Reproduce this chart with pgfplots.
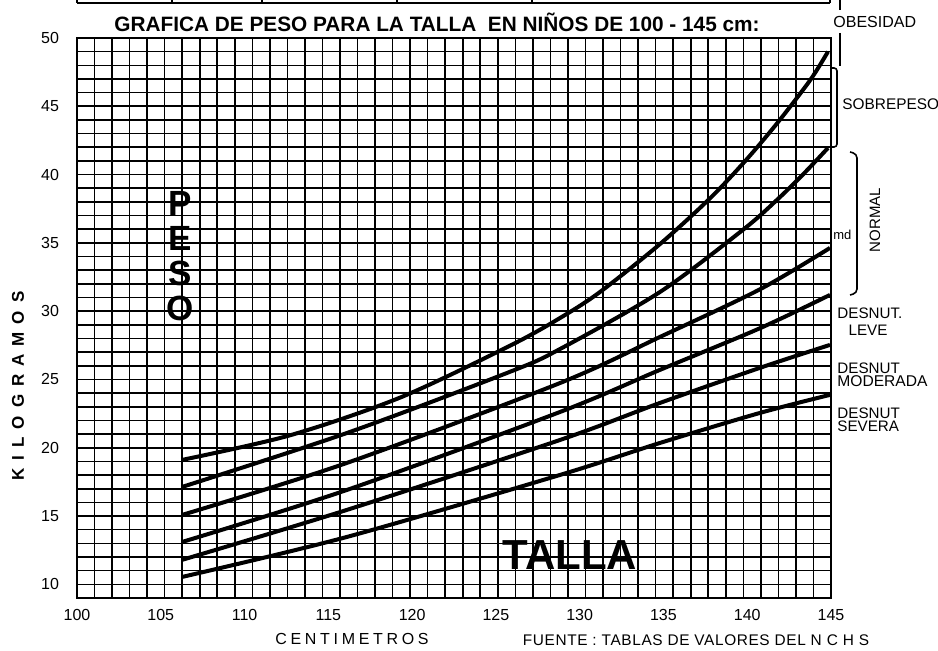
\documentclass[border=0pt]{standalone}
\usepackage{fontspec}
\setmainfont{Liberation Sans}
\usepackage{pgfplots}
\pgfplotsset{compat=1.18}
\begin{document}
\begin{tikzpicture}
\begin{axis}[
  scale only axis, width=377pt, height=280pt,
  xmin=100, xmax=145, ymin=9, ymax=50,
  xtick={100,105,...,145}, ytick={10,15,...,50},
  minor xtick={100,101.0465116,...,145.01},
  minor ytick={9,10,...,50},
  xminorgrids=true, yminorgrids=true,
  minor grid style={black, line width=0.8pt},
  major tick length=0pt, minor tick length=0pt,
  axis line style={black, line width=0.9pt},
  tick label style={font=\fontsize{8}{9}\selectfont},
  /pgf/number format/assume math mode=true,
  xticklabel style={yshift=-2pt},
  yticklabel style={xshift=-5.5pt},
]
\addplot[black, line width=2pt, smooth, tension=0.5] coordinates {(106.27,10.54) (116.11,13.47) (128.83,18.01) (134.79,20.35) (140.76,22.55) (144.94,23.87)};
\addplot[black, line width=2pt, smooth, tension=0.5] coordinates {(106.27,11.79) (116.11,15.45) (128.83,20.57) (134.79,23.28) (140.76,25.85) (144.94,27.53)};
\addplot[black, line width=2pt, smooth, tension=0.5] coordinates {(106.27,13.10) (116.11,16.91) (128.83,22.62) (134.79,25.70) (140.76,28.75) (144.94,31.19)};
\addplot[black, line width=2pt, smooth, tension=0.5] coordinates {(106.27,15.08) (116.11,18.89) (128.83,24.74) (134.79,28.11) (140.76,31.60) (144.94,34.63)};
\addplot[black, line width=2pt, smooth, tension=0.5] coordinates {(106.27,17.13) (116.11,21.08) (125.84,25.56) (128.83,27.23) (134.79,31.40) (139.75,35.96) (141.78,38.15) (143.33,40.01) (144.82,41.95)};
\addplot[black, line width=2pt, smooth, tension=0.5] coordinates {(106.27,19.11) (112.71,20.91) (119.28,23.67) (125.84,27.47) (128.83,29.50) (131.21,31.40) (134.79,34.91) (137.78,38.26) (139.87,40.98) (141.78,43.75) (143.75,46.90) (144.82,49.00)};
\end{axis}
\begin{scope}[x=0.5pt, y=-0.5pt, shift={(-38.5pt,299pt)}]
  % top table remnant
  \draw[line width=1pt] (77,3) -- (830,3);
  \foreach \xx in {77,172,262,397,532,830} \draw[line width=1pt] (\xx,-1) -- (\xx,3);
  % title
  \node[anchor=base, inner sep=0pt, font={\fontsize{10.4}{12}\selectfont\bfseries}] at (437,32) {GRAFICA DE PESO PARA LA TALLA\ \ EN NIÑOS DE 100 - 145 cm:};
  % obesity marker
  \draw[line width=1.3pt] (840,-1) -- (840,10);
  \draw[line width=1.3pt] (840,33) -- (840,66);
  \node[anchor=base west, inner sep=0pt, font={\fontsize{8}{9}\selectfont}] at (833,28) {OBESIDAD};
  % sobrepeso bracket
  \draw[line width=0.8pt, rounded corners=1.5pt] (832,68) -- (837,68) -- (837,147) -- (832,147);
  \node[anchor=base west, inner sep=0pt, font={\fontsize{7.7}{9}\selectfont}] at (842,110) {SOBREPESO};
  % normal bracket
  \draw[line width=0.8pt, rounded corners=2pt] (850,152) -- (857,154) -- (857,293) -- (850,295);
  \node[anchor=base west, inner sep=0pt, font={\fontsize{6.5}{8}\selectfont}] at (833,240) {md};
  \node[rotate=90, inner sep=0pt, font={\fontsize{7.5}{9}\selectfont}] at (875,220) {NORMAL};
  % desnutrition labels
  \node[anchor=base west, inner sep=0pt, font={\fontsize{7.6}{9}\selectfont}] at (837,319) {DESNUT.};
  \node[anchor=base, inner sep=0pt, font={\fontsize{7.6}{9}\selectfont}] at (868,336) {LEVE};
  \node[anchor=base west, inner sep=0pt, font={\fontsize{7.6}{9}\selectfont}] at (837,374) {DESNUT};
  \node[anchor=base west, inner sep=0pt, font={\fontsize{7.8}{9}\selectfont}] at (837,387) {MODERADA};
  \node[anchor=base west, inner sep=0pt, font={\fontsize{7.6}{9}\selectfont}] at (837,419) {DESNUT};
  \node[anchor=base west, inner sep=0pt, font={\fontsize{7.6}{9}\selectfont}] at (837,432) {SEVERA};
  % big labels
  \node[align=center, inner sep=0pt, font={\fontsize{17.5}{17.5}\selectfont\bfseries}] at (180,256) {P\\E\\S\\O};
  \node[anchor=base, inner sep=0pt, font={\fontsize{21}{24}\selectfont\bfseries}] at (570,570) {TALLA};
  \node[rotate=90, inner sep=0pt, font={\fontsize{8.5}{10}\selectfont\bfseries}] at (18,386) {\addfontfeatures{LetterSpace=47}KILOGRAMOS};
  \node[anchor=base, inner sep=0pt, font={\fontsize{8}{9}\selectfont}] at (352,645) {\addfontfeatures{LetterSpace=23}CENTIMETROS};
  \node[anchor=base, inner sep=0pt, font={\fontsize{7.7}{9}\selectfont}] at (696,646) {\addfontfeatures{LetterSpace=4}FUENTE : TABLAS DE VALORES DEL N C H S};
\end{scope}
\pgfresetboundingbox
\begin{scope}[x=0.5pt, y=-0.5pt, shift={(-38.5pt,299pt)}]
  \path[use as bounding box] (0,0) rectangle (938,651);
\end{scope}
\end{tikzpicture}
\end{document}
